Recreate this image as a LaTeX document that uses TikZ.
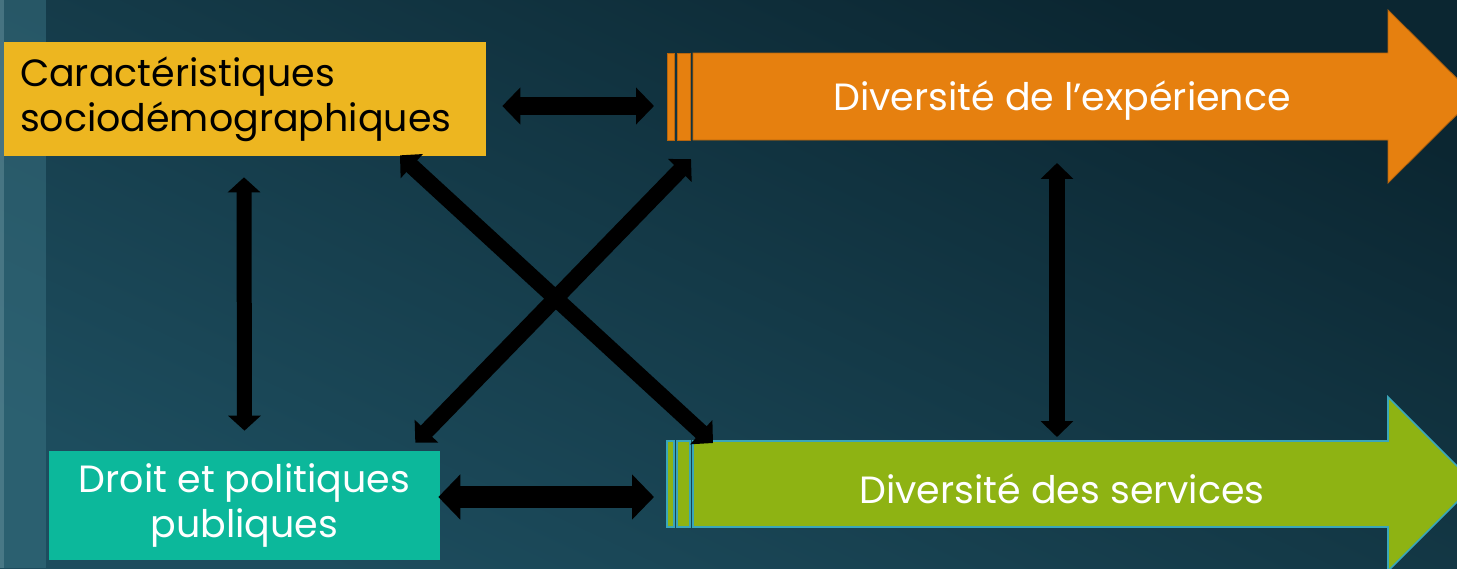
\documentclass[tikz,border=0pt]{standalone}
\usepackage{fontspec}
\setmainfont{Poppins}
\usetikzlibrary{arrows.meta}
\definecolor{seadark}{HTML}{0B2631}
\definecolor{sealight}{HTML}{1D4D5E}
\definecolor{seastrip}{HTML}{3A7383}
\definecolor{ochre}{HTML}{EDB620}
\definecolor{jade}{HTML}{0CB89B}
\definecolor{tangerine}{HTML}{E6800F}
\definecolor{tangerineline}{HTML}{B8650C}
\definecolor{olive}{HTML}{8EB313}
\definecolor{oliveline}{HTML}{3AA6B9}
\tikzset{
  boxfont/.style={font=\fontsize{21.6pt}{25.5pt}\selectfont},
  link/.style 2 args={line width=#1, {Triangle[length=#1,width=#2]}-{Triangle[length=#1,width=#2]}},
}
\begin{document}
\begin{tikzpicture}[x=0.02cm, y=-0.02cm]
      \useasboundingbox (0,0) rectangle (1457,568);
      % background
      \shade [top color=seadark, bottom color=sealight, shading angle=-25] (0,0) rectangle (1457,568);
      \fill [seastrip, opacity=0.5] (0,0) rectangle (46,568);
      \fill [seastrip!70!white, opacity=0.4] (0,0) rectangle (4,568);
      % boxes
      \node (carac) [boxfont, fill=ochre, text=black, minimum width=9.64cm, minimum height=2.28cm, text width=9.0cm, inner xsep=0.32cm, align=left] at (245,99) {Caractéristiques\\sociodémographiques};
      \node (droit) [boxfont, fill=jade, text=white, minimum width=7.82cm, minimum height=2.18cm, align=center] at (244.5,505.5) {Droit et politiques\\publiques};
      % orange block arrow
      \filldraw [fill=tangerine, draw=tangerineline, line width=0.5pt] (693,53) -- (1388,53) -- (1388,10) -- (1475,96.5) -- (1388,183) -- (1388,140) -- (693,140) -- cycle;
      \filldraw [fill=tangerine, draw=tangerineline, line width=0.5pt] (667,53) rectangle (674,140);
      \filldraw [fill=tangerine, draw=tangerineline, line width=0.5pt] (677,53) rectangle (690,140);
      \node (exp) [boxfont, text=white] at (1062,101) {Diversité de l’expérience};
      % green block arrow
      \filldraw [fill=olive, draw=oliveline, line width=0.9pt] (693,441) -- (1388,441) -- (1388,397) -- (1475,484) -- (1388,571) -- (1388,527) -- (693,527) -- cycle;
      \filldraw [fill=olive, draw=oliveline, line width=0.9pt] (667,441) rectangle (674,527);
      \filldraw [fill=olive, draw=oliveline, line width=0.9pt] (677,441) rectangle (690,527);
      \node (serv) [boxfont, text=white] at (1062,489) {Diversité des services};
      % connector ends on the block arrows
      \coordinate (expw) at (654,106);
      \coordinate (expsw) at (691,159);
      \coordinate (exps) at (1057,163);
      \coordinate (servw) at (654,497);
      \coordinate (servnw) at (713,443);
      \coordinate (servn) at (1057,437);
      % links
      \draw [link={0.36cm}{0.72cm}] ([shift={(16,7)}]carac.east) -- (expw);
      \draw [link={0.44cm}{0.88cm}] ([shift={(-2,-8.5)}]droit.east) -- (servw);
      \draw [link={0.30cm}{0.64cm}] ([shift={(-1,21)}]carac.south) -- ([shift={(0,-20)}]droit.north);
      \draw [link={0.32cm}{0.64cm}] (exps) -- (servn);
      \draw [link={0.32cm}{0.64cm}] ([shift={(155,-1)}]carac.south) -- (servnw);
      \draw [link={0.32cm}{0.64cm}] ([shift={(-25,-8)}]droit.north east) -- (expsw);
\end{tikzpicture}
\end{document}
